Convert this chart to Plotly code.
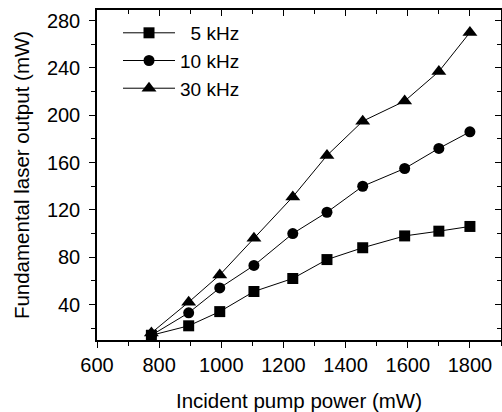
import plotly.graph_objects as go

pump_power = [775, 895, 995, 1105, 1230, 1340, 1455, 1590, 1700, 1800]
out_5khz = [14, 22, 34, 51, 62, 78, 88, 98, 102, 106]
out_10khz = [14, 33, 54, 73, 100, 118, 140, 155, 172, 186]
out_30khz = [16, 42, 65, 96, 131, 166, 195, 212, 237, 270]
series_names = ["\u20075 kHz", "10 kHz", "30 kHz"]
series_symbols = ["square", "circle", "triangle-up"]

x_range = [600, 1900]
y_range = [10, 289]
y_major = [40, 80, 120, 160, 200, 240, 280]
y_minor = [20, 60, 100, 140, 180, 220, 260]

fig = go.Figure()
for name, ys, sym in zip(series_names, [out_5khz, out_10khz, out_30khz], series_symbols):
    fig.add_trace(go.Scatter(
        x=pump_power, y=ys, name=name, mode="lines+markers",
        line=dict(color="black", width=1),
        marker=dict(symbol=sym, size=11 if sym != "triangle-up" else 13, color="black"),
    ))

# dummy trace for mirrored axes (top/right, inward ticks)
fig.add_trace(go.Scatter(x=[None], y=[None], xaxis="x2", yaxis="y2", showlegend=False, hoverinfo="skip"))

FAM = "Arial, Liberation Sans, Helvetica, sans-serif"
tickf = dict(family=FAM, color="black", size=20)
titlef = dict(family=FAM, color="black", size=20.5)

fig.update_layout(
    width=502, height=412,
    margin=dict(l=97, r=1, t=10, b=72),
    paper_bgcolor="white", plot_bgcolor="white",
    font=tickf,
    showlegend=True,
    legend=dict(x=0.052, y=0.988, xanchor="left", yanchor="top",
                bgcolor="rgba(0,0,0,0)", font=dict(family=FAM, color="black", size=19),
                itemwidth=52),
    xaxis=dict(range=x_range, dtick=200, tick0=600, ticks="outside", ticklen=6, tickwidth=1,
               tickcolor="black", showline=True, linecolor="black", linewidth=1.5,
               showgrid=False, zeroline=False,
               minor=dict(dtick=100, tick0=600, ticks="outside", ticklen=4, tickcolor="black", showgrid=False),
               title=dict(text="Incident pump power (mW)", font=titlef, standoff=20),
               tickfont=tickf),
    yaxis=dict(range=y_range, tickvals=y_major, ticks="outside", ticklen=6, tickwidth=1,
               tickcolor="black", showline=True, linecolor="black", linewidth=1.5,
               showgrid=False, zeroline=False, ticklabelstandoff=5,
               minor=dict(tickvals=y_minor, ticks="outside", ticklen=4, tickcolor="black", showgrid=False),
               title=dict(text="Fundamental laser output (mW)", font=titlef, standoff=12),
               tickfont=tickf),
    xaxis2=dict(range=x_range, overlaying="x", side="top", dtick=200, tick0=600, ticks="inside", ticklen=6,
                tickcolor="black", showticklabels=False, showline=True, linecolor="black", linewidth=1.5,
                showgrid=False, zeroline=False,
                minor=dict(dtick=100, tick0=600, ticks="inside", ticklen=4, tickcolor="black", showgrid=False)),
    yaxis2=dict(range=y_range, overlaying="y", side="right", tickvals=y_major,
                ticks="inside", ticklen=6, tickcolor="black", showticklabels=False, showline=True,
                linecolor="black", linewidth=1.5, showgrid=False, zeroline=False,
                minor=dict(tickvals=y_minor, ticks="inside", ticklen=4, tickcolor="black", showgrid=False)),
)

fig.write_html("out.html", config={"displayModeBar": False},
               post_script="document.body.style.margin='0';")
